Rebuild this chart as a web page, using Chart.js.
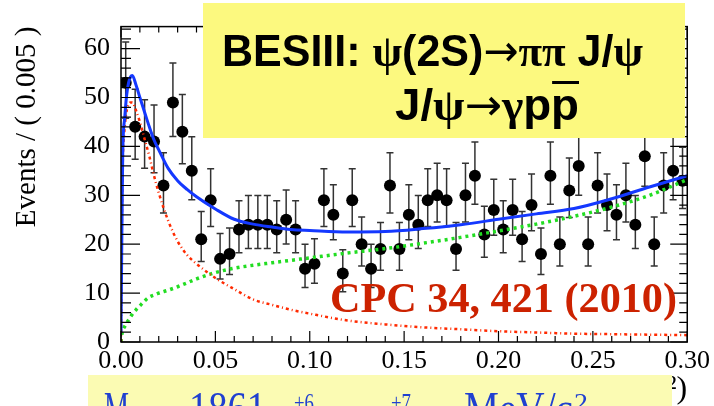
<!DOCTYPE html>
<html>
<head>
<meta charset="utf-8">
<script src="https://cdn.jsdelivr.net/npm/chart.js@4.4.1/dist/chart.umd.min.js"></script>
<style>
  html, body { margin: 0; padding: 0; background: #fff; }
</style>
</head>
<body>
<canvas id="c" width="714" height="406"></canvas>
<script>
// --- Data ---
const binWidth = 0.005;
// events per bin (bin centres at 0.0025, 0.0075, ...)
const counts = [
  53, 44, 42, 41, 32, 49, 43, 35, 21, 29,
  17, 18, 23, 24, 24, 24, 23, 25, 23, 15,
  16, 29, 26, 14, 29, 20, 15, 19, 32, 19,
  26, 24, 29, 30, 29, 19, 30, 34, 22, 27,
  23, 27, 21, 28, 18, 34, 20, 31, 36, 20,
  32, 28, 26, 30, 24, 38, 20, 32, 35, 33
];
// curves
const fitX = [0, 0.0003, 0.0009, 0.002, 0.003, 0.004, 0.005, 0.006, 0.008, 0.010,
  0.0125, 0.015, 0.0175, 0.020, 0.025, 0.030, 0.035, 0.040, 0.050, 0.060,
  0.070, 0.080, 0.090, 0.100, 0.120, 0.140, 0.160, 0.180, 0.200, 0.220,
  0.240, 0.260, 0.280, 0.300];
const totalFit = [2, 15, 38, 46, 50.5, 53, 54.2, 54.5, 52.5, 50,
  47, 44, 41.3, 39.3, 35.5, 33, 31.2, 29.7, 27.2, 25.1,
  24.1, 23.5, 23, 22.8, 22.5, 22.6, 23.2, 24, 25.1, 26.2,
  27.3, 29.3, 31.7, 34];
const signal = [0, 18, 36, 44, 47.3, 48.6, 49, 49, 47.3, 45,
  41.5, 38, 34, 30.5, 24.8, 20.6, 17.8, 16, 13.1, 10.8,
  8.7, 7.6, 6.6, 5.8, 4.4, 3.6, 3.0, 2.6, 2.2, 1.95,
  1.7, 1.6, 1.5, 1.4];
const background = [0, 1.2, 2.3, 3.2, 3.9, 4.5, 5.1, 5.7, 6.6, 7.4,
  8.4, 9.2, 9.6, 10.0, 10.6, 11.3, 12.1, 12.9, 14.2, 15.1,
  15.7, 16.2, 16.7, 17.2, 18.2, 19.1, 20.2, 21.4, 22.7, 24.1,
  25.7, 27.6, 30.0, 33.2];
const xTickValues = [0, 0.05, 0.10, 0.15, 0.20, 0.25, 0.30];
const yTickValues = [0, 10, 20, 30, 40, 50, 60];

const SERIF = '"Liberation Serif", "Times New Roman", serif';
const pts = arr => fitX.map((x, i) => ({ x: x, y: arr[i] }));

// draw a run of text pieces squeezed to a given width
function drawRun(ctx, parts, x, base, width) {
  let total = 0;
  parts.forEach(p => { ctx.font = p[1]; total += ctx.measureText(p[0]).width; });
  const s = width ? width / total : 1;
  const spans = [];
  ctx.save();
  ctx.translate(x, base);
  ctx.scale(s, 1);
  let cx = 0;
  parts.forEach(p => {
    ctx.font = p[1];
    ctx.fillText(p[0], cx, 0);
    const w = ctx.measureText(p[0]).width;
    spans.push([x + cx * s, w * s]);
    cx += w;
  });
  ctx.restore();
  return spans;
}

const decor = {
  id: 'decor',
  beforeDatasetsDraw(chart) {
    // Poisson error bars
    const { ctx, scales: { x, y } } = chart;
    ctx.save();
    ctx.strokeStyle = '#333';
    ctx.lineWidth = 1.5;
    counts.forEach((n, i) => {
      const px = x.getPixelForValue((i + 0.5) * binWidth);
      const lo = y.getPixelForValue(n - Math.sqrt(n - 0.25));
      const hi = y.getPixelForValue(n + Math.sqrt(n + 0.75) + 1);
      ctx.beginPath();
      ctx.moveTo(px, lo); ctx.lineTo(px, hi);
      ctx.moveTo(px - 3.5, lo); ctx.lineTo(px + 3.5, lo);
      ctx.moveTo(px - 3.5, hi); ctx.lineTo(px + 3.5, hi);
      ctx.stroke();
    });
    ctx.restore();
  },
  afterDraw(chart) {
    const { ctx, chartArea: a, scales: { x, y } } = chart;
    ctx.save();
    // frame
    ctx.strokeStyle = '#000';
    ctx.lineWidth = 1.5;
    ctx.strokeRect(a.left, a.top, a.right - a.left, a.bottom - a.top);
    // tick marks, inside the frame
    ctx.lineWidth = 1.2;
    ctx.beginPath();
    for (let k = 0; k <= 30; k++) {
      const px = x.getPixelForValue(k / 100);
      const len = k % 5 === 0 ? 11 : 6;
      ctx.moveTo(px, a.bottom); ctx.lineTo(px, a.bottom - len);
      ctx.moveTo(px, a.top); ctx.lineTo(px, a.top + len);
    }
    for (let v = 0; v <= 64; v += 2) {
      const py = y.getPixelForValue(v);
      const major = v % 10 === 0;
      ctx.moveTo(a.left, py); ctx.lineTo(a.left + (major ? 19 : 10), py);
      ctx.moveTo(a.right, py); ctx.lineTo(a.right - (major ? 17 : 8), py);
    }
    ctx.stroke();

    // title box
    ctx.fillStyle = '#fcf97f';
    ctx.fillRect(203, 3, 482, 135);
    ctx.fillStyle = '#000';
    ctx.textBaseline = 'alphabetic';
    const sans = 'bold 45px "Liberation Sans", Arial, sans-serif';
    const greek = 'bold 45px "Liberation Serif", "DejaVu Serif", serif';
    const arrow = '44px "DejaVu Sans", sans-serif';
    drawRun(ctx, [['BESIII: ', sans], ['\u03c8', greek], ['(2S)', sans], ['\u2192', arrow],
      ['\u03c0\u03c0', greek], [' J/', sans], ['\u03c8', greek]], 222, 66, 421);
    const sp = drawRun(ctx, [['J/', sans], ['\u03c8', greek], ['\u2192', arrow], ['\u03b3', greek],
      ['p', sans], ['p', sans]], 395, 120, 184);
    const last = sp[sp.length - 1];
    ctx.fillRect(last[0] + 1, 81, last[1] - 1, 3);

    // reference
    ctx.fillStyle = '#cc2200';
    drawRun(ctx, [['CPC 34, 421 (2010)', 'bold 42px ' + SERIF]], 330, 312, 347);

    // mass result box (cut by the picture edge)
    ctx.fillStyle = '#fbfbb3';
    ctx.fillRect(88, 375, 584, 40);
    ctx.fillStyle = '#2040d0';
    const big = '46px ' + SERIF, small = '26px ' + SERIF;
    drawRun(ctx, [['M', big]], 104, 424, 25);
    drawRun(ctx, [['=', big]], 140, 436, 24);
    drawRun(ctx, [['1861', big]], 189, 424, 77);
    drawRun(ctx, [['+6', small]], 294, 411, 20);
    drawRun(ctx, [['\u221213', small]], 294, 440, 28);
    drawRun(ctx, [['+7', small]], 391, 411, 20);
    drawRun(ctx, [['\u221226', small]], 391, 440, 28);
    drawRun(ctx, [['MeV/c', big]], 464, 424, 109);
    drawRun(ctx, [['2', small]], 574, 411, 14);
    ctx.restore();
  }
};

new Chart(document.getElementById('c'), {
  type: 'line',
  data: {
    datasets: [
      { label: 'Total fit', data: pts(totalFit), borderColor: '#1438ff', borderWidth: 3,
        pointRadius: 0, cubicInterpolationMode: 'monotone', fill: false },
      { label: 'Signal', data: pts(signal), borderColor: '#ff2a00', borderWidth: 2.5,
        borderDash: [3, 3, 1, 3], pointRadius: 0, cubicInterpolationMode: 'monotone', fill: false },
      { label: 'Background', data: pts(background), borderColor: '#22dd22', borderWidth: 3.5,
        borderDash: [3, 4], pointRadius: 0, cubicInterpolationMode: 'monotone', fill: false },
      { type: 'scatter', label: 'Data',
        data: counts.map((n, i) => ({ x: (i + 0.5) * binWidth, y: n })),
        pointRadius: 6, backgroundColor: '#000', borderWidth: 0 }
    ]
  },
  options: {
    responsive: false,
    animation: false,
    devicePixelRatio: 1,
    events: [],
    layout: { padding: { top: 12, right: 24, left: 0, bottom: 0 } },
    plugins: { legend: { display: false }, tooltip: { enabled: false } },
    scales: {
      x: {
        type: 'linear', min: 0, max: 0.3,
        afterBuildTicks: s => { s.ticks = xTickValues.map(v => ({ value: v })); },
        afterFit: s => { s.height = 64; },
        grid: { display: false, drawTicks: false },
        border: { display: false },
        ticks: { font: { family: SERIF, size: 26 }, color: '#000', padding: 4,
          maxRotation: 0, autoSkip: false, callback: v => v.toFixed(2) },
        title: { display: true, text: 'M(pp) \u2212 2m(p)  (GeV/c\u00b2)', align: 'end',
          color: '#000', padding: 0, font: { family: SERIF, size: 32, lineHeight: 1 } }
      },
      y: {
        min: 0, max: 64.5,
        afterBuildTicks: s => { s.ticks = yTickValues.map(v => ({ value: v })); },
        afterFit: s => { s.width = 121; },
        grid: { display: false, drawTicks: false },
        border: { display: false },
        ticks: { font: { family: SERIF, size: 26 }, color: '#000', padding: 11 },
        title: { display: true, text: 'Events / ( 0.005 )', align: 'end', color: '#000',
          padding: { top: 10, bottom: 0 }, font: { family: SERIF, size: 29 } }
      }
    }
  },
  plugins: [decor]
});
</script>
</body>
</html>
